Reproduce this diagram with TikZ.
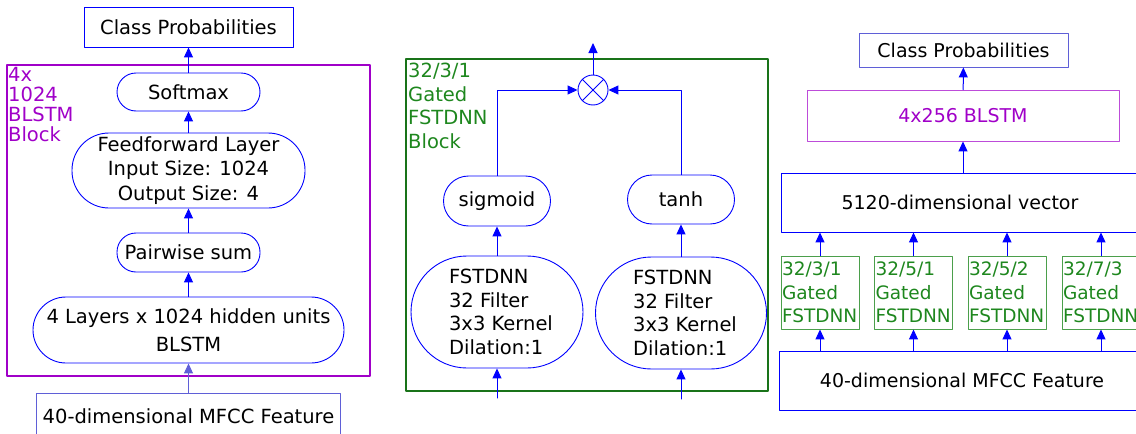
\documentclass[tikz,border=0pt]{standalone}
\usepackage{fontspec}
\setmainfont{DejaVu Sans}
\usetikzlibrary{arrows.meta}
\definecolor{blstmviolet}{RGB}{160,0,200}
\definecolor{gatedgreen}{RGB}{30,135,30}
\definecolor{paleblue}{RGB}{95,95,215}

\begin{document}
\begin{tikzpicture}[line cap=round,line join=round,>={Triangle[length=10pt,width=9pt]},x=1pt,y=-1pt,
  every node/.style={font=\fontsize{19.5}{23.5}\selectfont,inner sep=0pt},
  box/.style={draw=blue,line width=0.9pt},
  pill/.style={box,rounded corners=#1},
  link/.style={->,blue,line width=1pt},
  gatedbox/.style={draw=gatedgreen!80,line width=0.9pt,text=gatedgreen,align=left,
    text width=76pt,inner xsep=1pt,minimum height=73pt,font=\fontsize{18.5}{23.5}\selectfont}]
\useasboundingbox (0,0) rectangle (1136,434);
\clip (0,0) rectangle (1136,434);

% left: BLSTM classifier
\node[box,minimum width=209pt,minimum height=40pt] (classA) at (188.5,27) {Class Probabilities};
\draw[blstmviolet,line width=1.4pt] (7,65) rectangle (370,376);
\node[anchor=north west,text=blstmviolet,align=left,font=\fontsize{19.5}{20}\selectfont] (blstmlbl) at (8,67) {4x\\1024\\BLSTM\\Block};
\node[pill=19pt,minimum width=143pt,minimum height=38pt] (softmax) at (188.5,92) {Softmax};
\node[pill=37pt,minimum width=233pt,minimum height=75pt,align=center,font=\fontsize{19.5}{24.5}\selectfont] (ffl) at (188.5,170.5) {Feedforward Layer\\Input Size: 1024\\ Output Size: 4};
\node[pill=19pt,minimum width=143pt,minimum height=39pt] (pairsum) at (188.5,252.5) {Pairwise sum};
\node[pill=33pt,minimum width=311pt,minimum height=66pt,align=center,font=\fontsize{19.5}{28}\selectfont] (blstmA) at (188.5,330) {4 Layers x 1024 hidden units\\BLSTM};
\node[box,draw=paleblue,minimum width=304pt,minimum height=46pt] (mfccA) at (188.5,416) {40-dimensional MFCC Feature};
\draw[link,paleblue] (mfccA) -- (blstmA);
\foreach \a/\b in {blstmA/pairsum,pairsum/ffl,ffl/softmax,softmax/classA}
  \draw[link] (\a) -- (\b);

% middle: one gated FSTDNN block
\draw[gatedgreen!85!black,line width=1.6pt] (406,59) rectangle (768,391);
\node[anchor=north west,text=gatedgreen,align=left] (gatedlbl) at (408,63) {32/3/1\\Gated\\FSTDNN\\Block};
\node[box,circle,minimum size=30pt] (mul) at (593,90) {};
\draw[blue,line width=0.8pt] (mul.north west) -- (mul.south east) (mul.north east) -- (mul.south west);
\node[pill=25pt,minimum width=107pt,minimum height=50pt] (sigm) at (497,201) {sigmoid};
\node[pill=24.5pt,minimum width=107pt,minimum height=49pt] (tanh) at (681,199.5) {tanh};
\node[pill=56pt,minimum width=172pt,minimum height=112pt,align=left] (convL) at (497,312) {\hspace*{8pt}FSTDNN\\\hspace*{8pt}32 Filter\\\hspace*{8pt}3x3 Kernel\\\hspace*{8pt}Dilation:1};
\node[pill=56pt,minimum width=171pt,minimum height=112pt,align=left] (convR) at (681,313) {\hspace*{8pt}FSTDNN\\\hspace*{8pt}32 Filter\\\hspace*{8pt}3x3 Kernel\\\hspace*{8pt}Dilation:1};
\coordinate (inL) at (497,398);
\coordinate (inR) at (681,399);
\coordinate (gateout) at (593,43);
\draw[link] (inL) -- (convL);
\draw[link] (inR) -- (convR);
\draw[link] (convL) -- (sigm);
\draw[link] (convR) -- (tanh);
\draw[link] (sigm.north) |- (mul.west);
\draw[link] (tanh.north) |- (mul.east);
\draw[link] (mul) -- (gateout);

% right: gated FSTDNN branches into a BLSTM
\node[box,draw=paleblue,minimum width=209pt,minimum height=34pt,font=\fontsize{19}{23}\selectfont] (classB) at (963.5,50) {Class Probabilities};
\node[box,draw=blstmviolet!70,text=blstmviolet,minimum width=312pt,minimum height=51pt,font=\fontsize{19}{23}\selectfont] (blstmB) at (963,115.5) {4x256 BLSTM};
\node[box,minimum width=358pt,minimum height=59pt,font=\fontsize{19}{23}\selectfont] (vecB) at (960,202.5) {5120-dimensional vector};
\node[box,minimum width=366pt,minimum height=59pt,font=\fontsize{19}{23}\selectfont] (mfccB) at (962,380.5) {40-dimensional MFCC Feature};
\draw[link] (blstmB.south |- vecB.north) -- (blstmB);
\draw[link] (blstmB) -- (classB);
\foreach \x/\k/\d [count=\i] in {820/3/1,913.5/5/1,1007/5/2,1101/7/3}{
  \node[gatedbox] (g\i) at (\x,292.5) {32/\k/\d\\Gated\\FSTDNN};
  \draw[link] (g\i) -- (g\i |- vecB.south);
  \draw[link] (g\i |- mfccB.north) -- (g\i);
}
\end{tikzpicture}
\end{document}
